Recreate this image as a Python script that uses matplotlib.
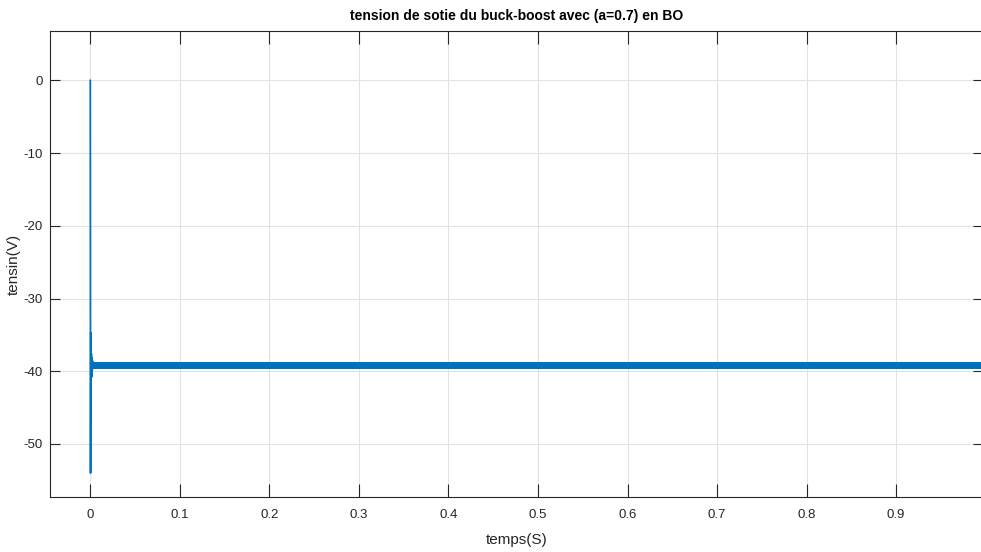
import matplotlib.pyplot as plt
import numpy as np

# transient right after switch-on (time in s, voltage in V)
t_trans = [0.0, 0.0003, 0.0006, 0.0009, 0.0012, 0.0015, 0.0018, 0.0021, 0.0025, 0.003]
v_trans = [0.0, -54.0, -34.7, -41.3, -37.6, -40.8, -38.2, -39.9, -38.6, -39.5]

# steady-state ripple band (upper / lower envelope)
t_band = [0.003, 1.0]
v_upper = [-38.7, -38.7]
v_lower = [-39.7, -39.7]

x_ticks = [0, 0.1, 0.2, 0.3, 0.4, 0.5, 0.6, 0.7, 0.8, 0.9]
y_ticks = [-50, -40, -30, -20, -10, 0]

plt.rcParams['font.family'] = ['Liberation Sans Narrow', 'Liberation Sans', 'DejaVu Sans']

if __name__ == "__main__":
    fig = plt.figure(figsize=(9.81, 5.52), dpi=100)
    ax = fig.add_axes([50 / 981, 1 - 497 / 552, 933 / 981, 466 / 552])

    blue = "#0072BD"
    ax.plot(t_trans, v_trans, color=blue, lw=1.3)
    ax.fill_between(t_band, v_lower, v_upper, color=blue, lw=0)

    ax.set_xlim(-0.045, 0.997)
    ax.set_ylim(-57.3, 6.8)
    ax.set_xticks(x_ticks, labels=[f"{v:g}" for v in x_ticks])
    ax.set_yticks(y_ticks, labels=[str(v) for v in y_ticks])

    ax.grid(color="#e3e3e3", lw=0.8)
    ax.set_axisbelow(True)
    for s in ax.spines.values():
        s.set_color("#262626")
        s.set_linewidth(0.8)

    ax.tick_params(axis="x", direction="in", length=9.5, width=0.8, top=True,
                   color="#262626", labelcolor="#262626", labelsize=9.5, pad=9)
    ax.tick_params(axis="y", direction="in", length=7, width=0.8, right=True,
                   color="#262626", labelcolor="#262626", labelsize=9.5, pad=5)

    ax.set_title("tension de sotie du buck-boost avec (a=0.7) en BO",
                 fontsize=10, fontweight="bold", pad=8)
    ax.set_xlabel("temps(S)", fontsize=11, color="#262626", labelpad=8)
    ax.set_ylabel("tensin(V)", fontsize=11, color="#262626", labelpad=2)

    plt.savefig("out.png", dpi=100)
